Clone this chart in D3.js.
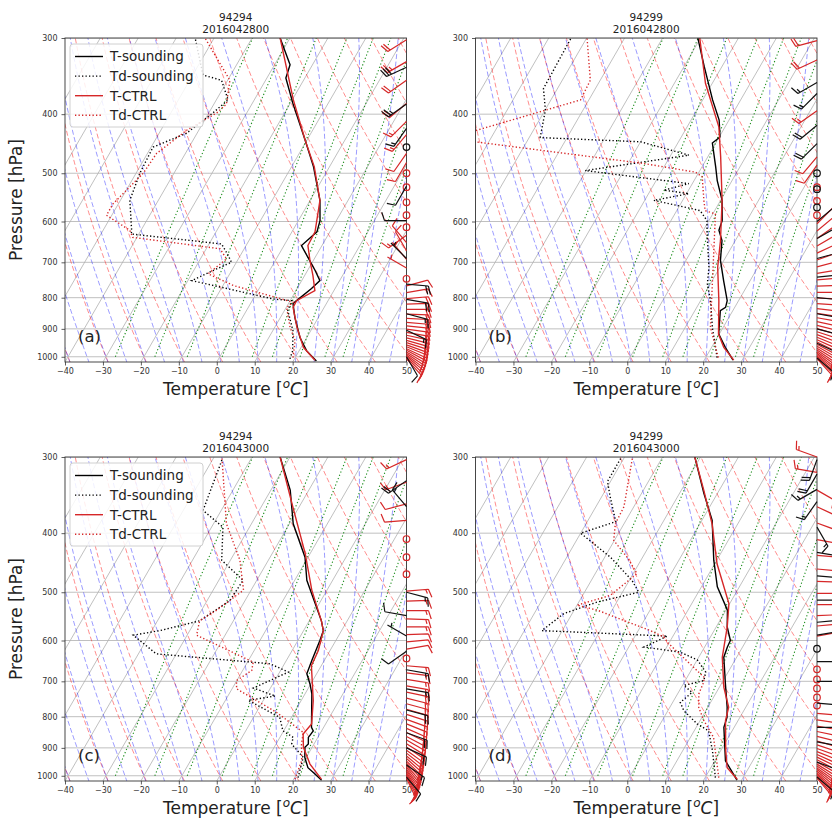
<!DOCTYPE html>
<html>
<head>
<meta charset="utf-8">
<script src="https://cdn.jsdelivr.net/npm/d3@7"></script>
<style>
body { margin: 0; background: #fff; }
text { font-family: "DejaVu Sans", sans-serif; }
</style>
</head>
<body>
<svg id="fig" width="832" height="820"></svg>
<script>
// four skew-T panels: sounding (black) vs CTRL run (red)
// winds drawn as barbs on the right edge of each panel

let pressTicks = [300, 400, 500, 600, 700, 800, 900, 1000]
let tempTicks = [-40, -30, -20, -10, 0, 10, 20, 30, 40, 50]
let isoTemps = [-100, -90, -80, -70, -60, -50, -40, -30, -20, -10, 0, 10, 20, 30, 40, 50]
let dryT0 = [-40, -30, -20, -10, 0, 10, 20, 30, 40, 50, 60, 70, 80, 90, 100, 110, 120]
let moistT0 = [-40, -35, -30, -25, -20, -15, -10, -5, 0, 5, 10, 15, 20, 25, 30, 35, 40, 45, 50]
let mixRatios = [0.0004, 0.001, 0.002, 0.004, 0.007, 0.01, 0.016, 0.024, 0.032]

// ---- (a) 94294 2016042800 ----  [pressure hPa, temperature C]
let aTSnd = [[1016,26.1],[978,22.0],[930,18.2],[862,13.8],[818,11.2],[809,11.7],[773,13.8],[750,14.8],[722,12.0],[687,8.1],[657,4.6],[624,6.6],[598,5.7],[554,2.6],[488,-4.2],[441,-10.5],[384,-19.3],[349,-25.0],[332,-25.9],[300,-32.6]]
let aTdSnd = [[1008,18.8],[978,18.3],[906,15.3],[840,10.9],[809,10.4],[804,5.3],[750,-19.0],[722,-14.9],[700,-11.3],[682,-13.2],[653,-16.7],[629,-42.0],[620,-42.5],[554,-47.5],[500,-49.0],[453,-49.5],[430,-42.8],[398,-38.9],[379,-36.9],[352,-41.6],[345,-47.3],[300,-55.0]]
let aTCtl = [[1013,25.6],[965,20.6],[894,15.8],[830,11.8],[809,11.7],[779,15.0],[736,12.2],[695,9.1],[657,6.3],[624,6.1],[554,2.6],[488,-4.0],[441,-10.5],[379,-19.7],[300,-32.6]]
let aTdCtl = [[1003,19.4],[941,17.4],[894,14.0],[830,10.1],[814,11.1],[764,-7.3],[731,-15.7],[691,-13.1],[665,-16.4],[637,-41.1],[620,-43.0],[586,-51.4],[561,-51.4],[500,-48.1],[464,-47.6],[425,-43.2],[398,-37.9],[385,-36.7],[352,-39.4],[300,-52.4]]
let aWSndP = [335, 385, 422, 453, 525, 598, 690, 760, 805, 850, 905, 1000]
let aWSndS = [30, 25, 15, 0, 10, 10, 5, 20, 20, 15, 15, 10]
let aWSndD = [245, 235, 215, 0, 210, 270, 315, 95, 100, 105, 115, 150]
let aWCtlP = [302,328,352,384,411,432,464,480,500,527,558,586,613,632,650,670,692,715,745,765,785,803,820,836,851,865,878,890,901,912,922,931,940,948,956,963,970,976,982,988,993,998,1003,1008]
let aWCtlS = [20,25,20,20,15,15,10,10,0,0,0,0,0,15,10,10,5,5,0,10,15,20,20,20,20,20,20,20,20,20,20,20,20,20,20,20,15,15,15,15,15,15,10,10]
let aWCtlD = [238,240,235,230,225,220,215,210,0,0,0,0,0,235,320,330,320,300,0,75,80,85,88,90,92,93,95,96,98,100,102,104,106,108,110,112,115,118,121,124,127,130,134,138]

// ---- (b) 94299 2016042800 ----
let bTSnd = [[1013,27.6],[965,23.6],[917,19.8],[840,16.7],[830,17.6],[809,17.0],[750,13.0],[695,9.1],[645,6.5],[620,4.1],[598,3.5],[554,0.4],[514,-3.9],[488,-6.4],[446,-10.9],[436,-9.8],[409,-12.6],[379,-17.4],[334,-24.7],[300,-30.7]]
let bTdSnd = [[1003,23.0],[894,17.1],[809,12.6],[759,9.2],[713,7.1],[628,1.5],[598,-0.5],[576,-3.8],[571,-6.7],[554,-17.6],[540,-9.4],[533,-16.5],[520,-10.9],[495,-40.2],[467,-15.2],[444,-30.0],[437,-57.1],[394,-59.9],[363,-63.7],[300,-64.1]]
let bTCtl = [[1013,27.8],[965,23.2],[918,19.8],[809,14.8],[713,9.4],[645,6.1],[554,0.4],[470,-6.6],[420,-11.6],[356,-21.8],[300,-30.2]]
let bTdCtl = [[1003,23.3],[894,16.6],[769,11.0],[583,0.7],[576,-2.5],[554,-4.4],[507,-8.4],[498,-10.9],[482,-25.8],[444,-73.6],[435,-95.0],[425,-74.9],[379,-52.2],[352,-52.6],[300,-59.9]]
let bWSndP = [355, 370, 417, 447, 500, 531, 569, 600, 640, 690, 740, 800, 850, 900, 950, 1005]
let bWSndS = [15, 15, 20, 20, 0, 0, 0, 10, 15, 15, 20, 20, 20, 15, 15, 10]
let bWSndD = [240, 225, 230, 225, 0, 0, 0, 50, 60, 75, 85, 95, 100, 105, 115, 130]
let bWCtlP = [303,326,395,470,485,527,555,586,605,622,640,658,676,694,712,730,748,766,784,801,818,834,849,863,876,888,899,910,920,929,938,946,954,961,968,975,981,987,992,997,1002,1007]
let bWCtlS = [20,20,15,10,10,0,0,0,10,15,15,15,20,20,20,20,20,20,20,20,20,20,20,20,20,20,20,20,20,20,20,20,15,15,15,15,15,15,15,10,10,10]
let bWCtlD = [255,245,235,220,215,0,0,0,45,50,55,60,65,70,75,80,85,88,90,92,94,96,98,100,102,104,106,108,110,112,114,116,118,120,122,124,126,128,130,132,135,138]

// ---- (c) 94294 2016043000 ----
let cTSnd = [[1017,27.5],[993,24.8],[970,22.0],[933,19.6],[898,18.1],[887,18.5],[865,17.5],[844,17.8],[833,16.8],[734,11.8],[707,9.8],[680,7.4],[646,6.7],[600,5.8],[578,5.2],[557,3.2],[478,-6.8],[438,-10.8],[386,-19.0],[340,-24.9],[300,-32.6]]
let cTdSnd = [[1007,20.9],[933,19.2],[887,14.1],[865,13.5],[844,9.8],[802,6.9],[752,-4.0],[740,2.5],[718,-4.5],[676,2.3],[655,-3.8],[631,-35.3],[588,-44.2],[578,-37.9],[557,-28.9],[516,-24.0],[478,-23.6],[443,-32.3],[391,-37.0],[367,-44.8],[303,-47.5]]
let cTCtl = [[1013,27.3],[957,22.0],[898,17.7],[854,15.6],[822,16.3],[753,13.2],[660,7.4],[623,6.9],[578,5.2],[557,3.2],[496,-4.0],[432,-11.3],[362,-21.7],[300,-32.6]]
let cTdCtl = [[1013,20.3],[945,19.3],[887,16.7],[849,15.4],[787,5.3],[720,-8.8],[698,-10.1],[672,-7.6],[651,-8.5],[588,-27.5],[557,-28.9],[535,-26.0],[496,-22.0],[443,-27.5],[386,-36.6],[301,-47.8]]
let cWSndP = [328, 362, 500, 546, 590, 625, 670, 720, 780, 850, 900, 960, 1005]
let cWSndS = [20, 15, 15, 10, 5, 10, 15, 15, 20, 20, 20, 15, 10]
let cWSndD = [235, 320, 105, 280, 300, 235, 100, 100, 105, 110, 115, 125, 140]
let cWCtlP = [303,330,358,381,409,438,467,498,517,536,553,570,587,603,620,642,660,678,695,712,729,746,762,778,793,808,822,836,849,862,874,886,897,908,918,928,937,946,954,962,969,976,982,988,994,999,1004,1009]
let cWCtlS = [15,15,10,10,0,0,0,15,15,15,15,15,10,10,10,0,15,15,15,20,20,20,20,20,20,20,20,20,20,20,20,20,20,20,20,20,20,20,15,15,15,15,15,15,15,15,10,10]
let cWCtlD = [245,250,255,265,0,0,0,85,88,90,92,90,88,85,80,0,95,97,99,100,102,104,105,106,108,110,112,114,116,118,120,122,124,126,128,130,132,134,136,138,140,142,144,146,148,150,152,155]

// ---- (d) 94299 2016043000 ----
let dTSnd = [[1017,28.8],[945,22.8],[833,17.3],[802,16.6],[772,15.1],[707,11.1],[639,6.6],[615,6.0],[600,5.8],[570,2.9],[535,0.4],[490,-5.8],[443,-10.8],[381,-17.3],[344,-23.6],[300,-31.5]]
let dTdSnd = [[1007,22.7],[909,17.8],[844,13.8],[822,9.7],[782,4.2],[758,2.0],[730,3.6],[711,0.4],[698,4.9],[676,4.1],[646,0.1],[627,-5.6],[615,-16.0],[590,-11.5],[578,-45.4],[542,-42.2],[519,-35.2],[500,-25.7],[478,-29.3],[438,-38.5],[400,-50.0],[383,-42.5],[349,-47.7],[329,-50.8],[300,-50.8]]
let dTCtl = [[1013,28.7],[970,24.3],[909,21.3],[812,16.7],[772,15.5],[716,11.2],[639,6.2],[570,2.9],[522,-0.2],[449,-9.4],[386,-16.8],[340,-24.1],[300,-31.5]]
let dTdCtl = [[1007,23.6],[865,16.1],[812,11.0],[772,7.6],[734,5.6],[702,5.1],[689,4.4],[607,-10.0],[592,-12.3],[578,-16.8],[535,-33.9],[525,-40.0],[506,-32.7],[466,-29.0],[438,-34.1],[411,-40.2],[386,-42.3],[362,-42.6],[300,-47.9]]
let dWSndP = [303, 320, 339, 355, 391, 430, 470, 515, 560, 588, 619, 650, 700, 760, 833, 880, 950, 1005]
let dWSndS = [20, 20, 15, 15, 15, 10, 10, 10, 10, 10, 0, 10, 10, 15, 20, 20, 15, 10]
let dWSndD = [200, 210, 240, 215, 150, 100, 95, 90, 85, 80, 0, 90, 90, 95, 90, 100, 110, 130]
let dWCtlP = [300,318,340,362,385,410,435,458,480,502,524,546,568,590,669,695,719,744,767,790,810,829,846,862,877,890,902,913,923,932,941,949,957,964,971,977,983,989,994,999,1004,1009]
let dWCtlS = [15,15,20,20,15,15,15,15,15,15,15,15,15,10,0,0,0,0,0,15,20,20,20,20,20,20,20,20,20,20,20,20,20,15,15,15,15,15,15,15,10,10]
let dWCtlD = [290,280,120,115,110,100,95,95,92,90,90,88,85,80,0,0,0,0,0,95,98,100,102,104,106,108,110,112,114,116,118,120,122,124,126,128,130,132,134,136,138,140]

let red = '#d62728'
let W = 341.5, H = 324
let TAN = Math.tan(Math.PI / 6)
let P_BOT = 1020, P_TOP = 300

let svg = d3.select('#fig')

// thermodynamics for the background lines
let Rd = 287.04749, Cp = 1005.7, Lv = 2.50084e6, EPS = 0.62196
let satVap = T => 6.112 * Math.exp(17.67 * (T - 273.15) / (T - 29.65))
function moistSlope(p, T) {
    let e = satVap(T)
    let rs = EPS * e / (p - e)
    return (Rd * T + Lv * rs) / (Cp + Lv * Lv * rs * EPS / (Rd * T * T)) / p
}
function rk4(p, T, dp) {
    let k1 = moistSlope(p, T)
    let k2 = moistSlope(p + dp / 2, T + dp / 2 * k1)
    let k3 = moistSlope(p + dp / 2, T + dp / 2 * k2)
    let k4 = moistSlope(p + dp, T + dp * k3)
    return T + dp / 6 * (k1 + 2 * k2 + 2 * k3 + k4)
}
function moistCurve(t0) {
    let up = [], T = t0 + 273.15
    for (let p = 1000; p > P_TOP - 1; p -= 5) { up.push([p, T - 273.15]); T = rk4(p, T, -5) }
    let down = []
    T = t0 + 273.15
    for (let p = 1000; p < P_BOT + 5; p += 5) { T = rk4(p, T, 5); down.push([p + 5, T - 273.15]) }
    return down.reverse().concat(up)
}
function dryCurve(t0) {
    let out = []
    for (let p = P_BOT; p >= P_TOP; p -= 10) out.push([p, (t0 + 273.15) * Math.pow(p / 1000, 0.2857) - 273.15])
    return out
}
function mixCurve(w) {
    let out = []
    for (let p = 1000; p >= P_TOP; p -= 10) {
        let e = p * w / (EPS + w)
        let l = Math.log(e / 6.112)
        out.push([p, 243.5 * l / (17.67 - l)])
    }
    return out
}

function barb(g, bx, by, spd, dir, color) {
    let L = 22, hgt = 0.38 * L, wid = 0.25 * L, spc = 0.125 * L
    let s5 = Math.round(spd / 5) * 5
    if (s5 < 5) {
        g.append('circle').attr('cx', bx).attr('cy', by).attr('r', 0.15 * L)
            .attr('fill', 'none').attr('stroke', color).attr('stroke-width', 1.2)
        return
    }
    let r = dir * Math.PI / 180
    let sx = Math.sin(r), sy = -Math.cos(r)
    let px = -sy, py = sx
    let pt = (o, h, a) => [bx + sx * (o + a) + px * h, by + sy * (o + a) + py * h]
    let nflag = Math.floor(s5 / 50)
    let rest = s5 - nflag * 50
    let nfull = Math.floor(rest / 10)
    let half = rest - nfull * 10 >= 5
    let d = `M${bx},${by}L${pt(L, 0, 0)}`
    let off = L
    for (let i = 0; i < nflag; i++) {
        d += `M${pt(off, 0, 0)}L${pt(off, hgt, -wid / 2)}L${pt(off, 0, -wid)}`
        off -= wid + spc
    }
    for (let i = 0; i < nfull; i++) {
        d += `M${pt(off, 0, 0)}L${pt(off, hgt, wid / 2)}`
        off -= spc
    }
    if (half) {
        if (off === L) off -= 1.5 * spc
        d += `M${pt(off, 0, 0)}L${pt(off, hgt / 2, wid / 4)}`
    }
    g.append('path').attr('d', d).attr('fill', 'none').attr('stroke', color)
        .attr('stroke-width', 1.2).attr('stroke-linejoin', 'miter')
}

function skewPanel(opt) {
    let g = svg.append('g').attr('transform', `translate(${opt.x0},${opt.y0})`)
    let x = d3.scaleLinear().domain([-40, 50]).range([0, W])
    let y = d3.scaleLog().domain([P_BOT, P_TOP]).range([H, 0])
    let skx = (t, p) => x(t) + (H - y(p)) * TAN
    let line = d3.line().x(d => skx(d[1], d[0])).y(d => y(d[0]))

    g.append('clipPath').attr('id', 'clip' + opt.id)
        .append('rect').attr('width', W).attr('height', H)
    let plot = g.append('g').attr('clip-path', `url(#clip${opt.id})`)

    // skewed isotherms and pressure grid
    isoTemps.forEach(t => {
        plot.append('path').attr('d', line([[P_BOT, t], [P_TOP, t]]))
            .attr('stroke', '#b0b0b0').attr('stroke-width', 0.8).attr('fill', 'none')
    })
    pressTicks.forEach(p => {
        plot.append('line').attr('x1', 0).attr('x2', W).attr('y1', y(p)).attr('y2', y(p))
            .attr('stroke', '#b0b0b0').attr('stroke-width', 0.8)
    })
    dryT0.forEach(t => {
        plot.append('path').attr('d', line(dryCurve(t))).attr('fill', 'none')
            .attr('stroke', '#ff0000').attr('stroke-opacity', 0.45).attr('stroke-width', 1)
            .attr('stroke-dasharray', '5,2.5')
    })
    moistT0.forEach(t => {
        plot.append('path').attr('d', line(moistCurve(t))).attr('fill', 'none')
            .attr('stroke', '#0000ff').attr('stroke-opacity', 0.4).attr('stroke-width', 1)
            .attr('stroke-dasharray', '5,2.5')
    })
    mixRatios.forEach(w => {
        plot.append('path').attr('d', line(mixCurve(w))).attr('fill', 'none')
            .attr('stroke', '#008000').attr('stroke-opacity', 0.9).attr('stroke-width', 1.1)
            .attr('stroke-dasharray', '1.2,2.3')
    })

    // profiles
    let prof = [[opt.tSnd, '#000', null], [opt.tdSnd, '#000', '1.3,2.2'],
                [opt.tCtl, red, null], [opt.tdCtl, red, '1.3,2.2']]
    prof.forEach(([data, col, dash]) => {
        plot.append('path').attr('d', line(data)).attr('fill', 'none')
            .attr('stroke', col).attr('stroke-width', 1.4)
            .attr('stroke-dasharray', dash)
    })

    // axes
    let yAx = g.append('g').call(d3.axisLeft(y).tickValues(pressTicks).tickFormat(d3.format('d'))
        .tickSize(3.5).tickSizeOuter(0).tickPadding(4))
    let xAx = g.append('g').attr('transform', `translate(0,${H})`)
        .call(d3.axisBottom(x).tickValues(tempTicks).tickSize(3.5).tickSizeOuter(0).tickPadding(3))
    ;[yAx, xAx].forEach(a => {
        a.selectAll('text').attr('font-size', 8).attr('fill', '#333')
            .attr('font-family', '"DejaVu Sans", sans-serif')
        a.selectAll('line').attr('stroke', '#333').attr('stroke-width', 0.8)
        a.select('.domain').remove()
    })
    g.append('rect').attr('width', W).attr('height', H).attr('fill', 'none')
        .attr('stroke', '#333').attr('stroke-width', 0.9)

    // winds on the right edge
    let wg = g.append('g')
    opt.wCtl[0].forEach((p, i) => barb(wg, W, y(p), opt.wCtl[1][i], opt.wCtl[2][i], red))
    opt.wSnd[0].forEach((p, i) => barb(wg, W, y(p), opt.wSnd[1][i], opt.wSnd[2][i], '#111'))

    // titles and labels
    g.append('text').attr('x', W / 2).attr('y', -17.5).attr('text-anchor', 'middle')
        .attr('font-size', 10.5).attr('fill', '#222').text(opt.station)
    g.append('text').attr('x', W / 2).attr('y', -5.5).attr('text-anchor', 'middle')
        .attr('font-size', 10.5).attr('fill', '#222').text(opt.time)
    g.append('text').attr('x', 13).attr('y', 304).attr('font-size', 16.5)
        .attr('fill', '#222').text(opt.label)
    let xl = g.append('text').attr('x', W / 2).attr('y', H + 33).attr('text-anchor', 'middle')
        .attr('font-size', 17).attr('fill', '#222')
    xl.append('tspan').text('Temperature [')
    xl.append('tspan').attr('font-style', 'italic').attr('font-size', 12).attr('dy', -7).text('o')
    xl.append('tspan').attr('font-style', 'italic').attr('dy', 7).text('C')
    xl.append('tspan').text(']')
    if (opt.ylab) {
        g.append('text').attr('transform', `translate(${-43},${H / 2}) rotate(-90)`)
            .attr('text-anchor', 'middle').attr('font-size', 17).attr('fill', '#222')
            .text('Pressure [hPa]')
    }
    if (opt.legend) {
        let lg = g.append('g').attr('transform', 'translate(5,6)')
        lg.append('rect').attr('width', 133).attr('height', 83).attr('rx', 3)
            .attr('fill', '#fff').attr('fill-opacity', 0.85).attr('stroke', '#d0d0d0')
        let items = [['T-sounding', '#000', null], ['Td-sounding', '#000', '1.3,2.2'],
                     ['T-CTRL', red, null], ['Td-CTRL', red, '1.3,2.2']]
        items.forEach(([name, col, dash], i) => {
            let yy = 12.5 + i * 19.6
            lg.append('line').attr('x1', 5).attr('x2', 33).attr('y1', yy).attr('y2', yy)
                .attr('stroke', col).attr('stroke-width', 1.4).attr('stroke-dasharray', dash)
            lg.append('text').attr('x', 40).attr('y', yy).attr('dy', '0.36em')
                .attr('font-size', 13.5).attr('fill', '#222').text(name)
        })
    }
}

skewPanel({id: 'a', x0: 65, y0: 38, label: '(a)', station: '94294', time: '2016042800', legend: true, ylab: true,
    tSnd: aTSnd, tdSnd: aTdSnd, tCtl: aTCtl, tdCtl: aTdCtl,
    wSnd: [aWSndP, aWSndS, aWSndD], wCtl: [aWCtlP, aWCtlS, aWCtlD]})
skewPanel({id: 'b', x0: 475.5, y0: 38, label: '(b)', station: '94299', time: '2016042800', legend: false, ylab: false,
    tSnd: bTSnd, tdSnd: bTdSnd, tCtl: bTCtl, tdCtl: bTdCtl,
    wSnd: [bWSndP, bWSndS, bWSndD], wCtl: [bWCtlP, bWCtlS, bWCtlD]})
skewPanel({id: 'c', x0: 65, y0: 457, label: '(c)', station: '94294', time: '2016043000', legend: true, ylab: true,
    tSnd: cTSnd, tdSnd: cTdSnd, tCtl: cTCtl, tdCtl: cTdCtl,
    wSnd: [cWSndP, cWSndS, cWSndD], wCtl: [cWCtlP, cWCtlS, cWCtlD]})
skewPanel({id: 'd', x0: 475.5, y0: 457, label: '(d)', station: '94299', time: '2016043000', legend: false, ylab: false,
    tSnd: dTSnd, tdSnd: dTdSnd, tCtl: dTCtl, tdCtl: dTdCtl,
    wSnd: [dWSndP, dWSndS, dWSndD], wCtl: [dWCtlP, dWCtlS, dWCtlD]})
</script>
</body>
</html>
